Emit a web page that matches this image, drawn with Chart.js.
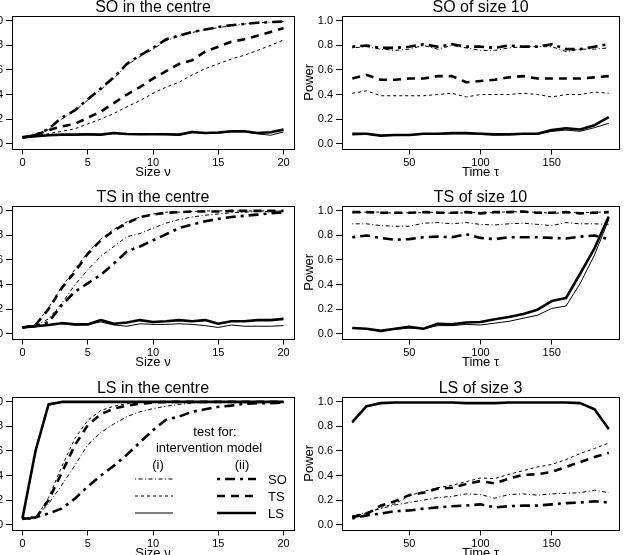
<!DOCTYPE html>
<html>
<head>
<meta charset="utf-8">
<script src="https://cdn.jsdelivr.net/npm/chart.js@4.4.1/dist/chart.umd.min.js"></script>
<style>
  html, body { margin: 0; padding: 0; background: #fff; }
  body { width: 630px; height: 555px; overflow: hidden; position: relative; }
  canvas { position: absolute; }
</style>
</head>
<body>
<script>
// -------------------- DATA --------------------
const sizeV = [0,1,2,3,4,5,6,7,8,9,10,11,12,13,14,15,16,17,18,19,20];
const timeT = [10,20,30,40,50,60,70,80,90,100,110,120,130,140,150,160,170,180,190];
const sizeTicks = [0,5,10,15,20];
const timeTicks = [50,100,150];
const powerTicks = [0,0.2,0.4,0.6,0.8,1.0];

// SO in the centre (power vs size)
const soCentreSOi  = [0.05,0.065,0.115,0.2,0.265,0.355,0.44,0.53,0.64,0.71,0.77,0.84,0.875,0.905,0.93,0.945,0.96,0.975,0.985,0.99,0.995];
const soCentreSOii = [0.05,0.07,0.12,0.21,0.27,0.36,0.45,0.54,0.65,0.72,0.78,0.85,0.88,0.91,0.93,0.95,0.965,0.975,0.985,0.99,0.995];
const soCentreTSi  = [0.05,0.065,0.08,0.1,0.12,0.16,0.2,0.245,0.3,0.35,0.41,0.46,0.5,0.56,0.61,0.65,0.69,0.72,0.76,0.8,0.845];
const soCentreTSii = [0.05,0.07,0.11,0.14,0.16,0.21,0.26,0.33,0.4,0.46,0.53,0.59,0.65,0.68,0.75,0.79,0.83,0.85,0.88,0.91,0.94];
const soCentreLSi  = [0.06,0.062,0.065,0.07,0.07,0.072,0.07,0.082,0.075,0.073,0.074,0.073,0.07,0.09,0.084,0.085,0.095,0.095,0.08,0.068,0.095];
const soCentreLSii = [0.05,0.06,0.068,0.073,0.073,0.076,0.073,0.086,0.078,0.076,0.076,0.076,0.073,0.095,0.086,0.09,0.1,0.1,0.086,0.092,0.114];

// SO of size 10 (power vs time)
const soSizeSOi  = [0.78,0.79,0.77,0.76,0.77,0.80,0.77,0.80,0.78,0.76,0.76,0.78,0.79,0.79,0.79,0.75,0.77,0.77,0.78];
const soSizeSOii = [0.79,0.80,0.78,0.78,0.79,0.81,0.79,0.81,0.79,0.79,0.78,0.80,0.79,0.79,0.81,0.77,0.77,0.79,0.81];
const soSizeTSi  = [0.41,0.43,0.39,0.39,0.39,0.39,0.40,0.41,0.38,0.40,0.40,0.40,0.41,0.40,0.38,0.40,0.40,0.42,0.41];
const soSizeTSii = [0.53,0.56,0.52,0.52,0.53,0.53,0.55,0.55,0.50,0.51,0.52,0.54,0.55,0.53,0.53,0.53,0.53,0.54,0.55];
const soSizeLSi  = [0.07,0.075,0.065,0.07,0.07,0.075,0.075,0.08,0.08,0.075,0.07,0.075,0.075,0.075,0.10,0.11,0.10,0.13,0.165];
const soSizeLSii = [0.08,0.08,0.065,0.07,0.07,0.08,0.08,0.085,0.085,0.08,0.075,0.075,0.08,0.08,0.11,0.125,0.115,0.15,0.215];

// TS in the centre
const tsCentreSOi  = [0.05,0.065,0.12,0.245,0.395,0.52,0.63,0.71,0.79,0.815,0.86,0.9,0.93,0.95,0.965,0.975,0.985,0.99,0.995,0.995,1.0];
const tsCentreSOii = [0.05,0.06,0.095,0.23,0.34,0.41,0.48,0.57,0.67,0.71,0.76,0.81,0.86,0.89,0.915,0.935,0.95,0.96,0.97,0.98,0.99];
const tsCentreTSi  = [0.05,0.075,0.21,0.38,0.52,0.66,0.77,0.85,0.91,0.95,0.975,0.99,0.99,0.995,1,1,1,1,1,1,1];
const tsCentreTSii = [0.05,0.07,0.2,0.37,0.5,0.65,0.76,0.84,0.9,0.95,0.97,0.985,0.99,0.995,0.995,0.995,1,1,1,1,1];
const tsCentreLSi  = [0.05,0.06,0.07,0.085,0.07,0.075,0.095,0.07,0.06,0.08,0.075,0.075,0.08,0.075,0.065,0.05,0.07,0.06,0.06,0.06,0.065];
const tsCentreLSii = [0.05,0.06,0.07,0.085,0.075,0.075,0.11,0.08,0.09,0.11,0.095,0.1,0.11,0.1,0.11,0.08,0.1,0.1,0.11,0.11,0.12];

// TS of size 10
const tsSizeSOi  = [0.895,0.895,0.88,0.875,0.875,0.90,0.905,0.895,0.905,0.89,0.885,0.895,0.90,0.89,0.88,0.905,0.895,0.895,0.89];
const tsSizeSOii = [0.785,0.80,0.78,0.765,0.77,0.785,0.79,0.785,0.81,0.78,0.77,0.785,0.785,0.785,0.78,0.775,0.79,0.80,0.77];
const tsSizeTSi  = [0.985,0.99,0.99,0.98,0.985,0.985,0.99,0.98,0.985,0.985,0.985,0.995,0.99,0.99,0.98,0.985,0.985,0.99,0.99];
const tsSizeTSii = [0.99,0.99,0.985,0.985,0.985,0.99,0.985,0.985,0.99,0.98,0.99,0.99,0.995,0.985,0.985,0.99,0.98,0.985,0.99];
const tsSizeLSi  = [0.045,0.04,0.025,0.035,0.045,0.04,0.065,0.065,0.075,0.07,0.085,0.1,0.125,0.15,0.205,0.225,0.41,0.64,0.93];
const tsSizeLSii = [0.046,0.04,0.022,0.04,0.055,0.04,0.08,0.075,0.09,0.095,0.117,0.135,0.16,0.195,0.265,0.29,0.49,0.695,0.955];

// LS in the centre
const lsCentreSOi  = [0.05,0.06,0.17,0.32,0.48,0.65,0.75,0.82,0.88,0.92,0.945,0.965,0.98,0.99,0.995,0.995,1,1,1,1,1];
const lsCentreSOii = [0.05,0.06,0.09,0.13,0.21,0.31,0.4,0.48,0.57,0.67,0.77,0.855,0.88,0.92,0.94,0.96,0.97,0.985,0.99,0.99,0.995];
const lsCentreTSi  = [0.04,0.05,0.22,0.47,0.7,0.85,0.93,0.965,0.985,0.995,1,1,1,1,1,1,1,1,1,1,1];
const lsCentreTSii = [0.05,0.05,0.2,0.42,0.645,0.81,0.9,0.945,0.97,0.985,0.995,1,1,1,1,1,1,1,1,1,1];
const lsCentreLSi  = [0.04,0.59,0.975,0.995,1,1,1,1,1,1,1,1,1,1,1,1,1,1,1,1,1];
const lsCentreLSii = [0.05,0.6,0.98,1,1,1,1,1,1,1,1,1,1,1,1,1,1,1,1,1,1];

// LS of size 3
const lsSizeSOi  = [0.07,0.1,0.13,0.16,0.18,0.2,0.22,0.23,0.25,0.245,0.215,0.245,0.25,0.24,0.25,0.255,0.26,0.28,0.26];
const lsSizeSOii = [0.05,0.075,0.09,0.11,0.115,0.13,0.14,0.15,0.155,0.165,0.14,0.15,0.155,0.155,0.165,0.175,0.18,0.19,0.18];
const lsSizeTSi  = [0.07,0.09,0.14,0.17,0.235,0.27,0.30,0.32,0.35,0.38,0.375,0.41,0.44,0.47,0.49,0.53,0.58,0.62,0.665];
const lsSizeTSii = [0.06,0.085,0.155,0.19,0.24,0.26,0.295,0.30,0.33,0.355,0.335,0.375,0.405,0.41,0.43,0.47,0.51,0.55,0.585];
const lsSizeLSi  = [0.83,0.96,0.99,0.995,0.995,0.995,0.995,0.995,0.99,0.99,0.99,0.995,0.995,0.995,0.995,0.995,0.99,0.935,0.775];
const lsSizeLSii = [0.835,0.965,0.99,0.995,0.995,0.995,0.995,0.995,0.99,0.99,0.99,0.995,0.995,0.995,0.995,0.995,0.99,0.94,0.78];

// -------------------- STYLES / LAYOUT --------------------
const FONT = '"Liberation Sans", Arial, sans-serif';
Chart.defaults.font.family = FONT;
Chart.defaults.color = '#000';

// (i) thin lines, (ii) thick lines
const lineStyle = {
  SO_i:  { w: 1,   dash: [1, 2.5, 4, 2.5] },
  TS_i:  { w: 1,   dash: [3, 3] },
  LS_i:  { w: 1,   dash: [] },
  SO_ii: { w: 2.6, dash: [3, 5, 10, 5] },
  TS_ii: { w: 2.6, dash: [8, 6] },
  LS_ii: { w: 2.6, dash: [] }
};

const panels = [
  { title: "SO in the centre", xs: sizeV, ticks: sizeTicks, xLabel: "Size \u03bd", col: 0, row: 0,
    series: { SO_ii: soCentreSOii, TS_ii: soCentreTSii, LS_ii: soCentreLSii, SO_i: soCentreSOi, TS_i: soCentreTSi, LS_i: soCentreLSi } },
  { title: "SO of size 10", xs: timeT, ticks: timeTicks, xLabel: "Time \u03c4", col: 1, row: 0,
    series: { SO_ii: soSizeSOii, TS_ii: soSizeTSii, LS_ii: soSizeLSii, SO_i: soSizeSOi, TS_i: soSizeTSi, LS_i: soSizeLSi } },
  { title: "TS in the centre", xs: sizeV, ticks: sizeTicks, xLabel: "Size \u03bd", col: 0, row: 1,
    series: { SO_ii: tsCentreSOii, TS_ii: tsCentreTSii, LS_ii: tsCentreLSii, SO_i: tsCentreSOi, TS_i: tsCentreTSi, LS_i: tsCentreLSi } },
  { title: "TS of size 10", xs: timeT, ticks: timeTicks, xLabel: "Time \u03c4", col: 1, row: 1,
    series: { SO_ii: tsSizeSOii, TS_ii: tsSizeTSii, LS_ii: tsSizeLSii, SO_i: tsSizeSOi, TS_i: tsSizeTSi, LS_i: tsSizeLSi } },
  { title: "LS in the centre", xs: sizeV, ticks: sizeTicks, xLabel: "Size \u03bd", col: 0, row: 2, key: true,
    series: { SO_ii: lsCentreSOii, TS_ii: lsCentreTSii, LS_ii: lsCentreLSii, SO_i: lsCentreSOi, TS_i: lsCentreTSi, LS_i: lsCentreLSi } },
  { title: "LS of size 3", xs: timeT, ticks: timeTicks, xLabel: "Time \u03c4", col: 1, row: 2,
    series: { SO_ii: lsSizeSOii, TS_ii: lsSizeTSii, LS_ii: lsSizeLSii, SO_i: lsSizeSOi, TS_i: lsSizeTSi, LS_i: lsSizeLSi } }
];

const colBox = [ { left: -28, width: 330, padRight: 8 }, { left: 302, width: 328, padRight: 11 } ];
const rowTop = [0, 190, 381];

// box + panel title
const framePlugin = {
  id: 'frame',
  afterDatasetsDraw(chart, args, opts) {
    const { ctx, chartArea: a } = chart;
    ctx.save();
    ctx.strokeStyle = '#000';
    ctx.lineWidth = 1;
    ctx.strokeRect(Math.round(a.left) + 0.5, Math.round(a.top) + 0.5, Math.round(a.right - a.left), Math.round(a.bottom - a.top));
    ctx.fillStyle = '#000';
    ctx.font = '16px ' + FONT;
    ctx.textAlign = 'center';
    ctx.textBaseline = 'alphabetic';
    ctx.fillText(opts.text, (a.left + a.right) / 2, a.top - 4);
    ctx.restore();
  }
};

function drawSample(ctx, x0, x1, y, st) {
  ctx.beginPath();
  ctx.lineWidth = st.w;
  ctx.setLineDash(st.dash);
  ctx.moveTo(x0, y);
  ctx.lineTo(x1, y);
  ctx.stroke();
}

// key in the LS panel
const keyPlugin = {
  id: 'modelKey',
  afterDatasetsDraw(chart, args, opts) {
    if (!opts.show) return;
    const { ctx, chartArea: a } = chart;
    const L = a.left, T = a.top;
    ctx.save();
    ctx.fillStyle = '#000';
    ctx.strokeStyle = '#000';
    ctx.font = '13px ' + FONT;
    ctx.textBaseline = 'middle';
    ctx.textAlign = 'center';
    ctx.fillText('test for:', L + 203, T + 35);
    ctx.fillText('intervention model', L + 197, T + 51);
    ctx.fillText('(i)', L + 146, T + 68);
    ctx.fillText('(ii)', L + 230, T + 68);
    ctx.textAlign = 'left';
    ['SO', 'TS', 'LS'].forEach((k, i) => {
      const y = T + 82 + i * 17;
      drawSample(ctx, L + 123, L + 161, y, lineStyle[k + '_i']);
      drawSample(ctx, L + 205, L + 244, y, lineStyle[k + '_ii']);
      ctx.setLineDash([]);
      ctx.fillText(k, L + 256, y + 1);
    });
    ctx.restore();
  }
};

// -------------------- CHARTS --------------------
panels.forEach(p => {
  const c = colBox[p.col];
  const canvas = document.createElement('canvas');
  canvas.width = c.width;
  canvas.height = 185;
  canvas.style.left = c.left + 'px';
  canvas.style.top = rowTop[p.row] + 'px';
  canvas.style.width = c.width + 'px';
  canvas.style.height = '185px';
  document.body.appendChild(canvas);

  const xMin = p.xs[0], xMax = p.xs[p.xs.length - 1];
  const xPad = (xMax - xMin) * 0.04;

  new Chart(canvas, {
    type: 'line',
    data: {
      datasets: Object.keys(p.series).map(k => ({
        label: k,
        data: p.xs.map((v, i) => ({ x: v, y: p.series[k][i] })),
        borderColor: '#000',
        borderWidth: lineStyle[k].w,
        borderDash: lineStyle[k].dash,
        borderCapStyle: 'butt',
        borderJoinStyle: 'round',
        pointRadius: 0,
        tension: 0,
        fill: false
      }))
    },
    options: {
      responsive: false,
      animation: false,
      layout: { padding: { top: 16, right: c.padRight, bottom: 5, left: 0 } },
      plugins: {
        legend: { display: false },
        tooltip: { enabled: false },
        frame: { text: p.title },
        modelKey: { show: !!p.key }
      },
      scales: {
        x: {
          type: 'linear',
          min: xMin - xPad,
          max: xMax + xPad,
          afterBuildTicks: s => { s.ticks = p.ticks.map(v => ({ value: v })); },
          afterFit: s => { s.height = 31.5; },
          grid: { drawOnChartArea: false, drawTicks: true, tickLength: 6, color: '#000' },
          border: { display: false },
          ticks: { font: { size: 11 }, padding: 2, maxRotation: 0, autoSkip: false, callback: v => String(v) },
          title: { display: true, text: p.xLabel, font: { size: 13 }, padding: 0 }
        },
        y: {
          min: -0.04,
          max: 1.04,
          afterBuildTicks: s => { s.ticks = powerTicks.map(v => ({ value: v })); },
          afterFit: s => { s.width = 40; },
          grid: { drawOnChartArea: false, drawTicks: true, tickLength: 6, color: '#000' },
          border: { display: false },
          ticks: { font: { size: 11 }, padding: 3, autoSkip: false, callback: v => v.toFixed(1) },
          title: { display: true, text: 'Power', font: { size: 13 }, padding: 0 }
        }
      }
    },
    plugins: [framePlugin, keyPlugin]
  });
});
</script>
</body>
</html>
